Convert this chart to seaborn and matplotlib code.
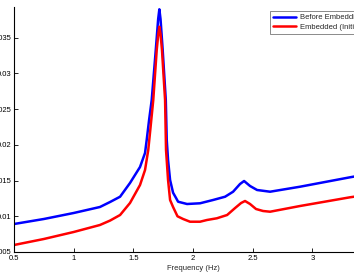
import matplotlib
matplotlib.use("Agg")
import matplotlib.pyplot as plt
import seaborn as sns
import pandas as pd

freq_before = [0.5, 0.75, 1.0, 1.22, 1.305, 1.389, 1.472, 1.556, 1.598, 1.612, 1.632, 1.654, 1.688,
               1.708, 1.718, 1.728, 1.746, 1.772, 1.780, 1.791, 1.808, 1.833, 1.858, 1.875,
               1.95, 2.059, 2.168, 2.269, 2.336, 2.394, 2.428, 2.478, 2.537, 2.646, 2.897,
               3.316, 3.5]
amp_before = [0.00892, 0.00962, 0.01046, 0.0113, 0.0120, 0.01274, 0.01466, 0.0169, 0.01886, 0.02068,
              0.02348, 0.02628, 0.03328, 0.0376, 0.03898, 0.0376, 0.03328, 0.02628, 0.02068,
              0.01788, 0.01508, 0.0133, 0.01256, 0.01204, 0.01172, 0.01182, 0.01228, 0.01274,
              0.01344, 0.01452, 0.01494, 0.01424, 0.01368, 0.01344, 0.01414, 0.01546, 0.0160]

freq_embedded = [0.5, 0.75, 1.0, 1.22, 1.305, 1.389, 1.472, 1.556, 1.598, 1.625, 1.642, 1.667, 1.696,
                 1.709, 1.718, 1.728, 1.74, 1.766, 1.774, 1.791, 1.808, 1.833, 1.87, 1.917,
                 1.975, 2.059, 2.117, 2.2, 2.286, 2.353, 2.403, 2.436, 2.478, 2.528, 2.587,
                 2.646, 2.897, 3.316, 3.5]
amp_embedded = [0.00598, 0.00682, 0.0078, 0.00878, 0.0094, 0.01018, 0.01186, 0.01438, 0.01648, 0.01928,
                0.02208, 0.02628, 0.03328, 0.0355, 0.03654, 0.0355, 0.03328, 0.02628, 0.01928,
                0.01508, 0.01228, 0.0113, 0.0100, 0.00962, 0.00924, 0.00924, 0.00948, 0.00972,
                0.01018, 0.01116, 0.01186, 0.01214, 0.01172, 0.01102, 0.01074, 0.01064, 0.01144,
                0.01266, 0.0131]

series_names = ["Before Embedding", "Embedded (Initial)"]
xticks = [0.5, 1, 1.5, 2, 2.5, 3]
xtick_labels = ["0.5", "1", "1.5", "2", "2.5", "3"]
yticks = [0.005, 0.01, 0.015, 0.02, 0.025, 0.03, 0.035]
ytick_labels = ["0.005", "0.01", "0.015", "0.02", "0.025", "0.03", "0.035"]

df = pd.concat([
    pd.DataFrame({"Frequency (Hz)": freq_before, "Amplitude": amp_before, "series": series_names[0]}),
    pd.DataFrame({"Frequency (Hz)": freq_embedded, "Amplitude": amp_embedded, "series": series_names[1]}),
])

sns.set_style("white")
plt.rcParams["font.family"] = ["Liberation Sans", "DejaVu Sans"]

fig = plt.figure(figsize=(3.54, 2.73), dpi=100)
ax = fig.add_axes([14 / 354, 21 / 273, 358 / 354, 245 / 273])

sns.lineplot(data=df, x="Frequency (Hz)", y="Amplitude", hue="series",
             palette=["#0000ff", "#ff0000"], linewidth=1.8, ax=ax, sort=False)
for line in ax.get_lines():
    line.set_solid_joinstyle("round")
    line.set_solid_capstyle("round")

ax.set_xlim(0.5, 3.5)
ax.set_ylim(0.005, 0.0393)
ax.set_xticks(xticks)
ax.set_xticklabels(xtick_labels)
ax.set_yticks(yticks)
ax.set_yticklabels(ytick_labels)
ax.tick_params(direction="in", length=3, width=0.6, labelsize=5.5, pad=2,
               bottom=True, left=True, colors="black")
ax.set_xlabel("Frequency (Hz)", fontsize=5.5, labelpad=2)
ax.set_ylabel("")
for s in ["top", "right"]:
    ax.spines[s].set_visible(False)
for s in ["left", "bottom"]:
    ax.spines[s].set_color("black")
    ax.spines[s].set_linewidth(0.8)

leg = ax.legend(loc="upper right", fontsize=5.5, frameon=True, fancybox=False,
                handlelength=3.0, borderpad=0.4, labelspacing=0.3, handletextpad=0.5,
                bbox_to_anchor=(0.995, 1.0))
leg.get_frame().set_edgecolor("#555555")
leg.get_frame().set_linewidth(0.6)
leg.set_title(None)

fig.savefig("out.png", dpi=100)
